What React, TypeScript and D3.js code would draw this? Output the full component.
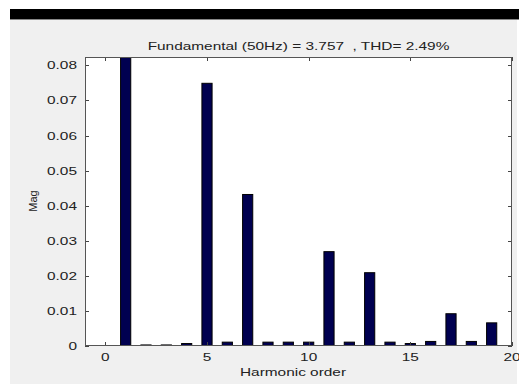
import React from 'react';
import * as d3 from 'd3';

// harmonic orders and their magnitudes (order 1 is the fundamental, clipped by the y range)
const orders = [0, 1, 2, 3, 4, 5, 6, 7, 8, 9, 10, 11, 12, 13, 14, 15, 16, 17, 18, 19];
const mags = [0.00005, 3.757, 0.0003, 0.0003, 0.0007, 0.0749, 0.0011, 0.0432, 0.0011, 0.0011,
  0.0011, 0.0269, 0.0011, 0.0209, 0.0011, 0.0007, 0.0013, 0.0092, 0.0013, 0.0066];
const xTicks = [0, 5, 10, 15, 20];
const yTicks = [0, 0.01, 0.02, 0.03, 0.04, 0.05, 0.06, 0.07, 0.08];
const title = 'Fundamental (50Hz) = 3.757  , THD= 2.49%';

const W = 519;
const H = 384;
const plot = { left: 85, right: 512, top: 57, bottom: 346 };
const STRETCH = 1.4; // the source image is wider than it is tall

export default function App() {
  const x = d3.scaleLinear().domain([-1, 20]).range([plot.left, plot.right]);
  const y = d3.scaleLinear().domain([0, 0.0824]).range([plot.bottom, plot.top]);
  const barW = x(0.5) - x(0);
  const font = 'Arial, "Liberation Sans", sans-serif';
  const txt = '#222';

  const hText = (tx: number, ty: number, s: string, size: number, anchor: string, key?: any) => (
    <text key={key} transform={`translate(${tx},${ty}) scale(${STRETCH},1)`} textAnchor={anchor}
      fontSize={size} fontFamily={font} fill={txt} style={{ whiteSpace: 'pre' }}>{s}</text>
  );

  return (
    <svg width={W} height={H} style={{ position: 'fixed', left: 0, top: 0 }}>
      <rect x={0} y={0} width={W} height={H} fill="#fff" />
      <rect x={10} y={9} width={W - 10} height={10} fill="#000" />
      <rect x={10} y={19} width={W - 10} height={1} fill="#888" />
      <rect x={10} y={20} width={W - 12} height={H - 20} fill="#f0f0f0" />

      <defs>
        <clipPath id="plotclip">
          <rect x={plot.left} y={plot.top} width={plot.right - plot.left} height={plot.bottom - plot.top} />
        </clipPath>
      </defs>
      <rect x={plot.left} y={plot.top} width={plot.right - plot.left} height={plot.bottom - plot.top} fill="#fff" />

      <g clipPath="url(#plotclip)">
        {orders.map((o, i) => (
          <rect key={o} x={x(o) - barW / 2} y={y(mags[i])} width={barW}
            height={Math.max(0, plot.bottom - y(mags[i]))} fill="#000050" stroke="#000" strokeWidth={1} />
        ))}
      </g>

      {/* ticks, inside on all four sides */}
      {xTicks.map((t) => (
        <g key={'xt' + t} stroke="#444" strokeWidth={1}>
          <line x1={Math.round(x(t)) + 0.5} x2={Math.round(x(t)) + 0.5} y1={plot.bottom} y2={plot.bottom - 4} />
          <line x1={Math.round(x(t)) + 0.5} x2={Math.round(x(t)) + 0.5} y1={plot.top} y2={plot.top + 4} />
        </g>
      ))}
      {yTicks.map((t) => (
        <g key={'yt' + t} stroke="#444" strokeWidth={1}>
          <line x1={plot.left} x2={plot.left + 4} y1={Math.round(y(t)) + 0.5} y2={Math.round(y(t)) + 0.5} />
          <line x1={plot.right} x2={plot.right - 4} y1={Math.round(y(t)) + 0.5} y2={Math.round(y(t)) + 0.5} />
        </g>
      ))}
      <rect x={plot.left + 0.5} y={plot.top + 0.5} width={plot.right - plot.left - 1} height={plot.bottom - plot.top - 1}
        fill="none" stroke="#555" strokeWidth={1} />

      {xTicks.map((t) => hText(x(t), 361, String(t), 11, 'middle', 'xl' + t))}
      {yTicks.map((t) => hText(77, y(t) + 4, t === 0 ? '0' : t.toFixed(2), 11, 'end', 'yl' + t))}

      {hText((plot.left + plot.right) / 2, 49.5, title, 11, 'middle')}
      {hText(293, 376, 'Harmonic order', 11, 'middle')}
      <text transform={`translate(37,201) rotate(-90)`} textAnchor="middle" fontSize={11}
        fontFamily={font} fill={txt}>Mag</text>
    </svg>
  );
}
